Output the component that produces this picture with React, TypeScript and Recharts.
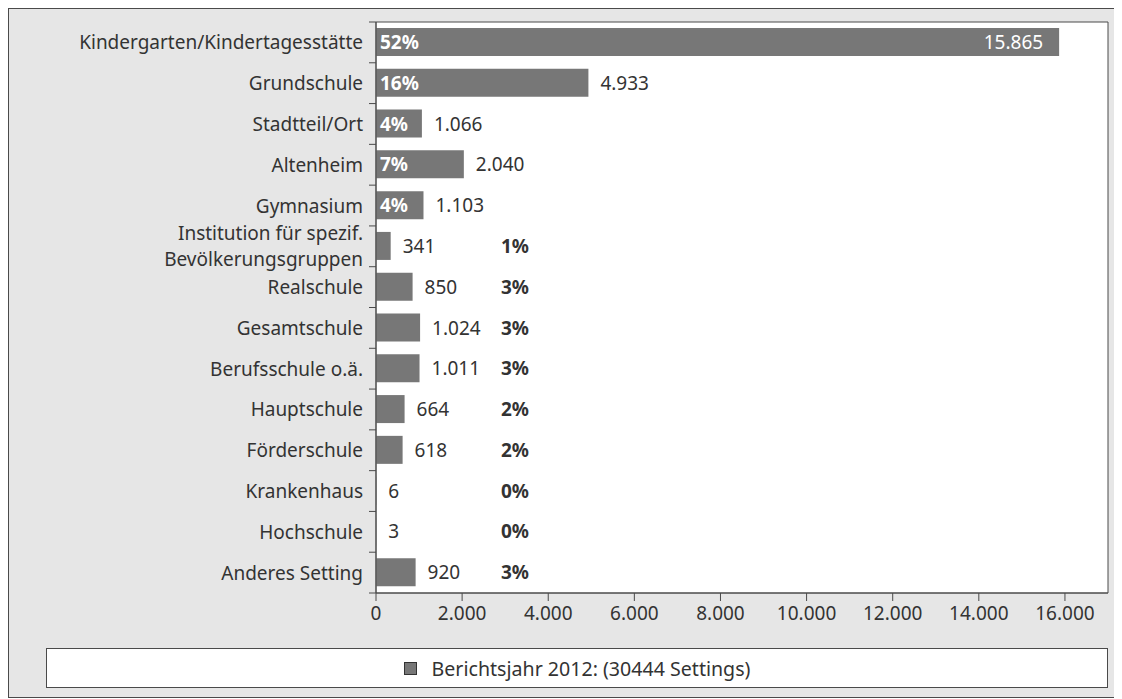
import {
  BarChart,
  Bar,
  XAxis,
  YAxis,
  CartesianGrid,
  Legend,
  LabelList,
  ReferenceArea,
} from 'recharts';

// Kategorien (von oben nach unten)
const categories = [
  'Kindergarten/Kindertagesstätte',
  'Grundschule',
  'Stadtteil/Ort',
  'Altenheim',
  'Gymnasium',
  'Institution für spezif. Bevölkerungsgruppen',
  'Realschule',
  'Gesamtschule',
  'Berufsschule o.ä.',
  'Hauptschule',
  'Förderschule',
  'Krankenhaus',
  'Hochschule',
  'Anderes Setting',
];

// Anzahl Settings
const counts = [15865, 4933, 1066, 2040, 1103, 341, 850, 1024, 1011, 664, 618, 6, 3, 920];

// Anteil in Prozent
const shares = [52, 16, 4, 7, 4, 1, 3, 3, 3, 2, 2, 0, 0, 3];

const xTicks = [0, 2000, 4000, 6000, 8000, 10000, 12000, 14000, 16000];

const seriesName = 'Berichtsjahr 2012: (30444 Settings)';

const FONT = '"Noto Sans", "Open Sans", sans-serif';
const FS = 19;
const TEXT = '#333333';
const BAR = '#777777';
const LINE = '#4a4a4a';
const BAND = 571 / 14;

const data = categories.map((name, i) => ({
  name,
  value: counts[i],
  share: shares[i],
}));

// Tausenderpunkt wie im Original
const fmt = (v: number) => String(v).replace(/\B(?=(\d{3})+(?!\d))/g, '.');

// lange Beschriftung auf zwei Zeilen umbrechen
function splitLabel(text: string) {
  if (text.length <= 32) return [text];
  const mid = text.length / 2;
  let best = -1;
  for (let i = 0; i < text.length; i++) {
    if (text[i] === ' ' && (best < 0 || Math.abs(i - mid) < Math.abs(best - mid))) best = i;
  }
  return [text.slice(0, best), text.slice(best + 1)];
}

// Kategorie-Beschriftung mit Teilstrichen an den Kategoriegrenzen
function CategoryTick(props: any) {
  const { x, y, payload, index } = props;
  const lines = splitLabel(String(payload.value));
  const lh = 26;
  const ax = x + 8;
  const tx = x - 5;
  const y0 = y - ((lines.length - 1) * lh) / 2;
  return (
    <g>
      <path
        d={`M${ax - 7},${y - BAND / 2}H${ax}` + (index === categories.length - 1 ? `M${ax - 7},${y + BAND / 2}H${ax}` : '')}
        stroke={LINE}
        strokeWidth={1}
        fill="none"
      />
      {lines.map((l, i) => (
        <text
          key={i}
          x={tx}
          y={y0 + i * lh}
          textAnchor="end"
          dominantBaseline="central"
          fill={TEXT}
          fontSize={FS}
          fontFamily={FONT}
        >
          {l}
        </text>
      ))}
    </g>
  );
}

function ValueLabel(props: any) {
  const { x, y, width, height, value } = props;
  const inside = value > 14000;
  return (
    <text
      x={inside ? x + width - 16 : x + width + 12}
      y={y + height / 2}
      textAnchor={inside ? 'end' : 'start'}
      dominantBaseline="central"
      fill={inside ? '#ffffff' : TEXT}
      fontSize={FS}
      fontFamily={FONT}
    >
      {fmt(value)}
    </text>
  );
}

function ShareLabel(props: any) {
  const { x, y, height, index } = props;
  const inside = counts[index] >= 1050;
  return (
    <text
      x={inside ? x + 4 : x + 125}
      y={y + height / 2}
      textAnchor="start"
      dominantBaseline="central"
      fill={inside ? '#ffffff' : TEXT}
      fontSize={FS}
      fontWeight="bold"
      fontFamily={FONT}
    >
      {`${shares[index]}%`}
    </text>
  );
}

function LegendBox() {
  return (
    <div
      style={{
        height: 38,
        background: '#ffffff',
        border: `1px solid ${LINE}`,
        display: 'flex',
        alignItems: 'center',
        justifyContent: 'center',
        fontFamily: FONT,
        fontSize: 19.6,
        color: TEXT,
      }}
    >
      <span
        style={{
          display: 'inline-block',
          width: 11,
          height: 11,
          background: BAR,
          border: '1px solid #333',
          marginRight: 15,
        }}
      />
      {seriesName}
    </div>
  );
}

export default function App() {
  return (
    <div
      style={{
        width: 1114,
        height: 688,
        background: '#e6e6e6',
        border: `1px solid ${LINE}`,
        borderRight: 'none',
      }}
    >
      <BarChart
        width={1114}
        height={688}
        data={data}
        layout="vertical"
        margin={{ top: 13, right: 15, bottom: 0, left: 0 }}
      >
        <CartesianGrid fill="#ffffff" horizontal={false} vertical={false} />
        <XAxis
          type="number"
          domain={[0, 17000]}
          ticks={xTicks}
          tickFormatter={fmt}
          height={64}
          tickSize={8}
          tickMargin={6}
          axisLine={{ stroke: LINE }}
          tickLine={{ stroke: LINE }}
          tick={{ fill: TEXT, fontSize: FS, fontFamily: FONT }}
        />
        <YAxis
          type="category"
          dataKey="name"
          width={367}
          tickLine={false}
          axisLine={{ stroke: LINE }}
          tick={<CategoryTick />}
          interval={0}
        />
        <Legend
          verticalAlign="bottom"
          content={<LegendBox />}
          wrapperStyle={{ left: 37, width: 1062, bottom: 9 }}
        />
        <Bar dataKey="value" name={seriesName} fill={BAR} barSize={28} isAnimationActive={false}>
          <LabelList dataKey="value" content={<ValueLabel />} />
          <LabelList dataKey="share" content={<ShareLabel />} />
        </Bar>
        <ReferenceArea x1={0} x2={17000} fill="none" stroke={LINE} />
      </BarChart>
    </div>
  );
}
